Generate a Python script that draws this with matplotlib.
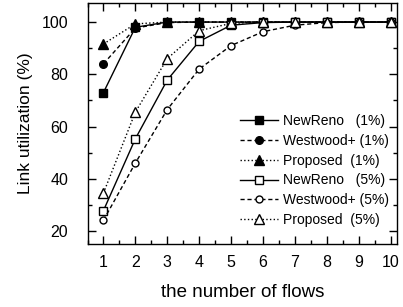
import matplotlib
matplotlib.use("Agg")
import matplotlib.pyplot as plt
from matplotlib.ticker import MultipleLocator

plt.rcParams['font.family'] = ['Liberation Sans', 'DejaVu Sans']

flows = [1, 2, 3, 4, 5, 6, 7, 8, 9, 10]
newreno_1 = [73, 98, 100, 100, 100, 100, 100, 100, 100, 100]
westwood_1 = [84, 97.7, 99.8, 100, 100, 100, 100, 100, 100, 100]
proposed_1 = [91.6, 99.3, 100, 100, 100, 100, 100, 100, 100, 100]
newreno_5 = [27.8, 55.3, 77.8, 92.6, 98.8, 99.8, 100, 100, 100, 100]
westwood_5 = [24.1, 46, 66.5, 82, 91, 96.3, 98.8, 99.8, 100, 100]
proposed_5 = [34.5, 65.5, 86, 96.7, 99.5, 100, 100, 100, 100, 100]

fig = plt.figure(figsize=(4.03, 3.07), dpi=100)
ax = fig.add_axes([87.5/403, 1 - 244/307, (397-87.5)/403, (244-3)/307])

ax.plot(flows, newreno_1, 'k-', marker='s', ms=5.5, lw=1, label='NewReno   (1%)')
ax.plot(flows, westwood_1, 'k--', marker='o', ms=5.5, lw=1, dashes=(3, 2), label='Westwood+ (1%)')
ax.plot(flows, proposed_1, 'k:', marker='^', ms=6.5, lw=1, label='Proposed  (1%)')
ax.plot(flows, newreno_5, 'k-', marker='s', ms=5.5, lw=1, mfc='white', label='NewReno   (5%)')
ax.plot(flows, westwood_5, 'k--', marker='o', ms=5, lw=1, dashes=(3, 2), mfc='white', label='Westwood+ (5%)')
ax.plot(flows, proposed_5, 'k:', marker='^', ms=6.5, lw=1, mfc='white', label='Proposed  (5%)')

ax.set_xlim(0.5, 10.2)
ax.set_ylim(15, 107.3)
ax.xaxis.set_major_locator(MultipleLocator(1))
ax.xaxis.set_minor_locator(MultipleLocator(0.5))
ax.yaxis.set_major_locator(MultipleLocator(20))
ax.yaxis.set_minor_locator(MultipleLocator(10))
ax.tick_params(which='both', direction='in', top=True, right=True, labelsize=11.5, width=1)
ax.tick_params(which='major', length=6)
ax.tick_params(which='minor', length=3)
ax.tick_params(axis='x', which='major', pad=8)
ax.tick_params(axis='y', which='major', pad=14)
for s in ax.spines.values():
    s.set_linewidth(1)

ax.set_xlabel('the number of flows', fontsize=13.5, labelpad=10)
ax.set_ylabel('Link utilization (%)', fontsize=12.5, labelpad=6)

ax.legend(loc='lower right', bbox_to_anchor=(396/403, 1 - 234/307), bbox_transform=fig.transFigure,
          frameon=False, fontsize=10, handlelength=2.7, handletextpad=0.4,
          labelspacing=0.42, borderpad=0)

fig.savefig('out.png', dpi=100)
